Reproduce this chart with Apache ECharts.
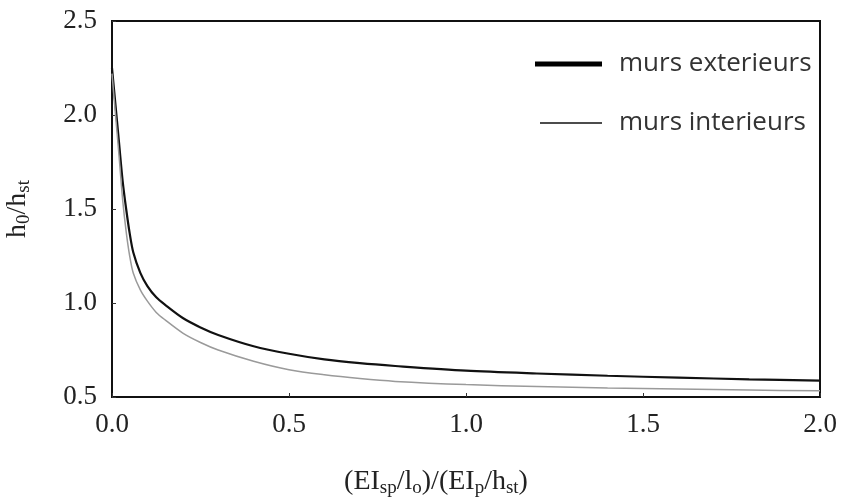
<!DOCTYPE html>
<html>
<head>
<meta charset="utf-8">
<script src="https://cdn.jsdelivr.net/npm/echarts@6/dist/echarts.min.js"></script>
<style>
  html, body { margin: 0; padding: 0; background: #fff; }
  #chart { width: 843px; height: 504px; }
</style>
</head>
<body>
<div id="chart"></div>
<script>
// x : (EIsp/lo)/(EIp/hst)
const xValues = [0, 0.01, 0.02, 0.03, 0.04, 0.05, 0.06, 0.08, 0.1, 0.125, 0.15, 0.2, 0.25, 0.3, 0.4, 0.5, 0.6, 0.7, 0.8, 1.0, 1.2, 1.4, 1.6, 1.8, 2.0];
// h0/hst
const exterieurs = [2.25, 2.05, 1.85, 1.65, 1.5, 1.37, 1.27, 1.16, 1.09, 1.03, 0.99, 0.92, 0.87, 0.83, 0.77, 0.73, 0.70, 0.68, 0.665, 0.64, 0.625, 0.613, 0.603, 0.594, 0.587];
const interieurs = [2.22, 2.0, 1.78, 1.55, 1.38, 1.25, 1.16, 1.07, 1.01, 0.95, 0.91, 0.84, 0.79, 0.75, 0.69, 0.645, 0.618, 0.598, 0.583, 0.566, 0.556, 0.548, 0.542, 0.537, 0.533];
const xTicks = ['0.0', '0.5', '1.0', '1.5', '2.0'];
const seriesNames = ['murs exterieurs', 'murs interieurs'];

const pairs = (ys) => xValues.map((x, i) => [x, ys[i]]);

const chart = echarts.init(document.getElementById('chart'));
const serif = 'Liberation Serif';
const nameRich = {
    n: { fontFamily: serif, fontSize: 28, color: '#222' },
    s: { fontFamily: serif, fontSize: 19, color: '#222', verticalAlign: 'bottom', padding: [14, 0, 0, 0] }
};

chart.setOption({
    animation: false,
    grid: {
        left: 112, right: 23, top: 21, bottom: 107,
        outerBoundsMode: 'none', containLabel: false,
        show: true, borderColor: '#111', borderWidth: 2
    },
    legend: [
        {
            data: [{ name: seriesNames[0], icon: 'rect' }],
            left: 530, top: 46,
            itemWidth: 67, itemHeight: 5, itemGap: 0,
            textStyle: { fontFamily: 'Open Sans', fontSize: 26, color: '#333', padding: [0, 0, 0, 12] }
        },
        {
            data: [{ name: seriesNames[1], icon: 'rect' }],
            left: 535, top: 105,
            itemWidth: 62, itemHeight: 1.5, itemGap: 0,
            textStyle: { fontFamily: 'Open Sans', fontSize: 26, color: '#333', padding: [0, 0, 0, 12] }
        }
    ],
    xAxis: {
        type: 'value',
        min: 0, max: 2, interval: 0.5,
        axisLine: { show: true, lineStyle: { color: '#111', width: 2 } },
        axisTick: { show: true, inside: true, length: 4, lineStyle: { color: '#333' } },
        splitLine: { show: false },
        axisLabel: {
            margin: 14, fontFamily: serif, fontSize: 27, color: '#222',
            formatter: (v) => xTicks[Math.round(v / 0.5)]
        },
        name: '{n|(EI}{s|sp}{n|/l}{s|o}{n|)/(EI}{s|p}{n|/h}{s|st}{n|)}',
        nameLocation: 'middle',
        nameGap: 68,
        nameTextStyle: { rich: nameRich, padding: [0, 60, 0, 0] }
    },
    yAxis: {
        type: 'value',
        min: 0.5, max: 2.5, interval: 0.5,
        axisLine: { show: true, lineStyle: { color: '#111', width: 2 } },
        axisTick: { show: true, inside: true, length: 4, lineStyle: { color: '#333' } },
        splitLine: { show: false },
        axisLabel: {
            margin: 15, fontFamily: serif, fontSize: 27, color: '#222',
            formatter: (v) => v.toFixed(1)
        },
        name: '{n|h}{s|0}{n|/h}{s|st}',
        nameLocation: 'middle',
        nameRotate: 90,
        nameGap: 78,
        nameTextStyle: { rich: nameRich }
    },
    series: [
        {
            name: seriesNames[0], type: 'line', data: pairs(exterieurs),
            smooth: 0.3, showSymbol: false,
            lineStyle: { color: '#111', width: 2.2 },
            itemStyle: { color: '#000' }
        },
        {
            name: seriesNames[1], type: 'line', data: pairs(interieurs),
            smooth: 0.3, showSymbol: false,
            lineStyle: { color: '#9a9a9a', width: 1.5 },
            itemStyle: { color: '#111' }
        }
    ]
});
</script>
</body>
</html>
